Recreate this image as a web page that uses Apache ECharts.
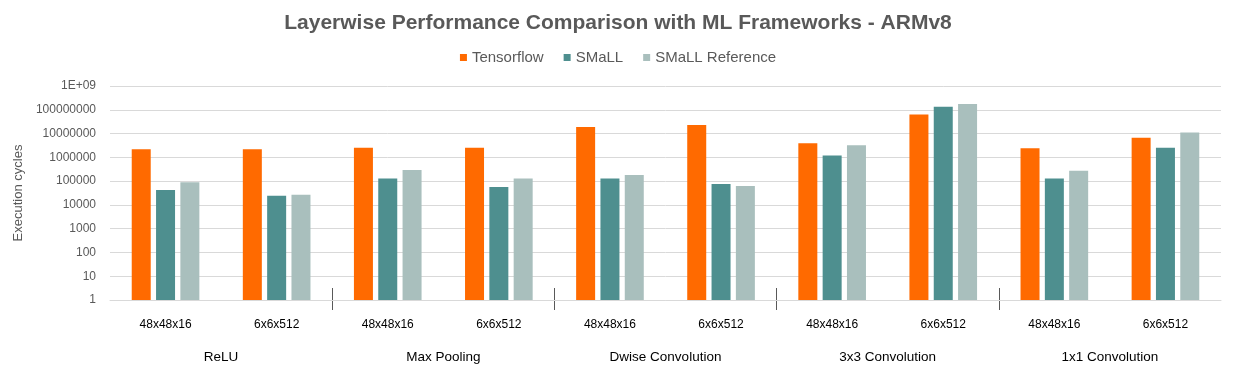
<!DOCTYPE html>
<html>
<head>
<meta charset="utf-8">
<script src="https://cdn.jsdelivr.net/npm/echarts@6/dist/echarts.min.js"></script>
<style>
html,body{margin:0;padding:0;background:#fff;}
#chart{width:1236px;height:374px;}
</style>
</head>
<body>
<div id="chart"></div>
<script>
const title = 'Layerwise Performance Comparison with ML Frameworks - ARMv8';
const sizes = ['48x48x16','6x6x512','48x48x16','6x6x512','48x48x16','6x6x512','48x48x16','6x6x512','48x48x16','6x6x512'];
const groups = ['ReLU','Max Pooling','Dwise Convolution','3x3 Convolution','1x1 Convolution'];
const seriesNames = ['Tensorflow','SMaLL','SMaLL Reference'];
const tensorflow = [2.2e6, 2.2e6, 2.5e6, 2.5e6, 1.9e7, 2.3e7, 3.9e6, 6.4e7, 2.4e6, 6.7e6];
const small = [4.2e4, 2.4e4, 1.3e5, 5.6e4, 1.3e5, 7.6e4, 1.2e6, 1.35e8, 1.3e5, 2.5e6];
const smallRef = [8.9e4, 2.7e4, 2.9e5, 1.3e5, 1.8e5, 6.2e4, 3.2e6, 1.75e8, 2.7e5, 1.1e7];
const colors = ['#ff6a00', '#4e8f8f', '#a9bfbd'];

const chart = echarts.init(document.getElementById('chart'));
const font = 'Liberation Sans, Arial, sans-serif';
chart.setOption({
  animation: false,
  color: colors,
  textStyle: {fontFamily: font},
  title: {
    text: title, left: 'center', top: 8,
    textStyle: {fontSize: 21, fontWeight: 'bold', color: '#595959', fontFamily: font}
  },
  legend: {
    top: 45, left: 'center', itemWidth: 7, itemHeight: 7, itemGap: 20,
    icon: 'rect',
    textStyle: {fontSize: 15, color: '#595959', fontFamily: font},
    data: seriesNames
  },
  grid: [
    {left: 110, right: 15, top: 86, bottom: 74},
    {left: 110, right: 15, top: 288, height: 22}
  ],
  xAxis: [
    {
      type: 'category', gridIndex: 0, data: sizes,
      axisLine: {show: true, lineStyle: {color: '#d9d9d9'}},
      axisTick: {show: false},
      axisLabel: {margin: 19, fontSize: 12, color: '#000', fontFamily: font, interval: 0}
    },
    {
      type: 'category', gridIndex: 1, data: groups,
      axisLine: {show: false}, axisTick: {show: false},
      splitLine: {show: true, showMinLine: false, showMaxLine: false, lineStyle: {color: '#595959', width: 1}},
      axisLabel: {margin: 40, fontSize: 13.5, color: '#000', fontFamily: font, interval: 0}
    }
  ],
  yAxis: [
    {
      type: 'log', logBase: 10, min: 1, max: 1e9, splitNumber: 9, gridIndex: 0,
      name: 'Execution cycles', nameLocation: 'middle', nameGap: 82, nameRotate: 90,
      nameTextStyle: {fontSize: 13, color: '#595959', fontFamily: font},
      axisLine: {show: false}, axisTick: {show: false},
      splitLine: {lineStyle: {color: '#d9d9d9'}},
      axisLabel: {
        margin: 14, fontSize: 12, color: '#595959', fontFamily: font,
        formatter: v => v >= 1e9 ? '1E+09' : String(Math.round(v))
      }
    },
    {
      type: 'value', gridIndex: 1, show: false
    }
  ],
  series: [
    {name: seriesNames[0], type: 'bar', data: tensorflow, barWidth: 19, barGap: '28%'},
    {name: seriesNames[1], type: 'bar', data: small, barWidth: 19, barGap: '28%'},
    {name: seriesNames[2], type: 'bar', data: smallRef, barWidth: 19, barGap: '28%'}
  ]
});
</script>
</body>
</html>
